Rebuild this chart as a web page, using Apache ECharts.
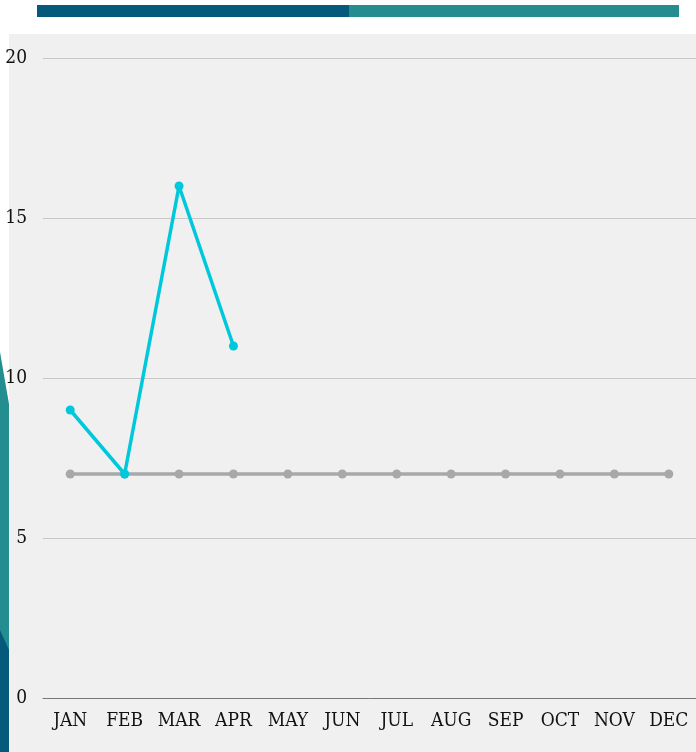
<!DOCTYPE html>
<html><head><meta charset="utf-8">
<script src="https://cdn.jsdelivr.net/npm/echarts@6/dist/echarts.min.js"></script>
<style>html,body{margin:0;padding:0;background:#fff;}#c{width:696px;height:752px;}</style>
</head><body><div id="c"></div>
<script>
const months = ['JAN','FEB','MAR','APR','MAY','JUN','JUL','AUG','SEP','OCT','NOV','DEC'];
const actual = [9, 7, 16, 11];
const target = [7, 7, 7, 7, 7, 7, 7, 7, 7, 7, 7, 7];
const yTicks = [0, 5, 10, 15, 20];

const FONT = '"DejaVu Serif Condensed", "DejaVu Serif", serif';
const chart = echarts.init(document.getElementById('c'), null, {renderer: 'canvas'});
chart.setOption({
  animation: false,
  backgroundColor: '#ffffff',
  graphic: [
    {type: 'polygon', z: -10, silent: true, shape: {points: [[0,352],[9,404],[9,752],[0,752]]}, style: {fill: '#238d8f'}},
    {type: 'polygon', z: -9, silent: true, shape: {points: [[0,630],[9,650],[9,752],[0,752]]}, style: {fill: '#055a7c'}},
    {type: 'rect', z: -8, silent: true, shape: {x: 9, y: 34, width: 687, height: 718}, style: {fill: '#f0f0f0'}},
    {type: 'rect', z: -7, silent: true, shape: {x: 37, y: 5, width: 312, height: 12}, style: {fill: '#055a7c'}},
    {type: 'rect', z: -7, silent: true, shape: {x: 349, y: 5, width: 330, height: 12}, style: {fill: '#238d8f'}}
  ],
  grid: {left: 43, width: 657, top: 58, bottom: 54, containLabel: false},
  xAxis: {
    type: 'category', data: months, boundaryGap: true,
    axisLine: {lineStyle: {color: '#777777', width: 1}},
    axisTick: {show: false},
    axisLabel: {color: '#111', fontFamily: FONT, fontSize: 19, margin: 14, interval: 0}
  },
  yAxis: {
    type: 'value', min: yTicks[0], max: yTicks[yTicks.length-1], interval: 5,
    axisLine: {show: false}, axisTick: {show: false},
    splitLine: {lineStyle: {color: '#c8c8c8', width: 1}},
    axisLabel: {color: '#111', fontFamily: FONT, fontSize: 19, margin: 16}
  },
  series: [
    {name: 'Target', type: 'line', data: target, symbol: 'circle', symbolSize: 9,
     lineStyle: {color: '#a8a8a8', width: 3.5}, itemStyle: {color: '#a8a8a8'}, z: 2},
    {name: 'Actual', type: 'line', data: actual, symbol: 'circle', symbolSize: 9,
     lineStyle: {color: '#00c8dc', width: 3.5}, itemStyle: {color: '#00c8dc'}, z: 3}
  ]
});
</script></body></html>
